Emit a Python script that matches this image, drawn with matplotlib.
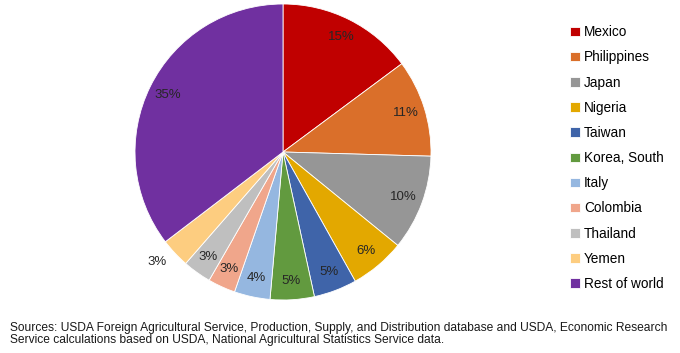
import matplotlib
matplotlib.use("Agg")
import matplotlib.pyplot as plt

plt.rcParams['font.family'] = ['Liberation Sans', 'DejaVu Sans']

# quote per paese (%)
paesi = ['Mexico', 'Philippines', 'Japan', 'Nigeria', 'Taiwan', 'Korea, South',
         'Italy', 'Colombia', 'Thailand', 'Yemen', 'Rest of world']
quote = [14.8, 10.6, 10.4, 6.0, 4.7, 4.8, 3.9, 3.0, 3.1, 3.2, 35.3]
colori = ['#C00000', '#DA6F2A', '#969696', '#E3A800', '#3F64A9', '#629A3F',
          '#95B7E0', '#F0A68B', '#BFBFBF', '#FDCD80', '#7030A0']

fig = plt.figure(figsize=(6.8, 3.53), dpi=100)
ax = fig.add_axes([135 / 680, 53 / 353, 296 / 680, 296 / 353])

wedges, testi, pct = ax.pie(quote, colors=colori, startangle=90, counterclock=False,
                            autopct='%.0f%%', pctdistance=0.87,
                            wedgeprops=dict(edgecolor='white', linewidth=0.6),
                            textprops=dict(fontsize=9.5, color='#262626'))
# etichetta dello Yemen fuori dalla torta
pct[9].set_position((-0.85, -0.74))
ax.set_xlim(-1, 1)
ax.set_ylim(-1, 1)
ax.set_aspect('equal')

fig.legend(wedges, paesi, loc='upper left', bbox_to_anchor=(558 / 680, 1 - 13 / 353),
           frameon=False, fontsize=9.8, labelspacing=0.82, handlelength=0.7,
           handleheight=0.7, handletextpad=0.3)

fig.text(10 / 680, 1 - 334 / 353,
         'Sources: USDA Foreign Agricultural Service, Production, Supply, and Distribution database and USDA, Economic Research\n'
         'Service calculations based on USDA, National Agricultural Statistics Service data.',
         fontsize=8.65, va='center', ha='left', color='#1a1a1a', linespacing=1.1)

fig.savefig('out.png', dpi=100)
